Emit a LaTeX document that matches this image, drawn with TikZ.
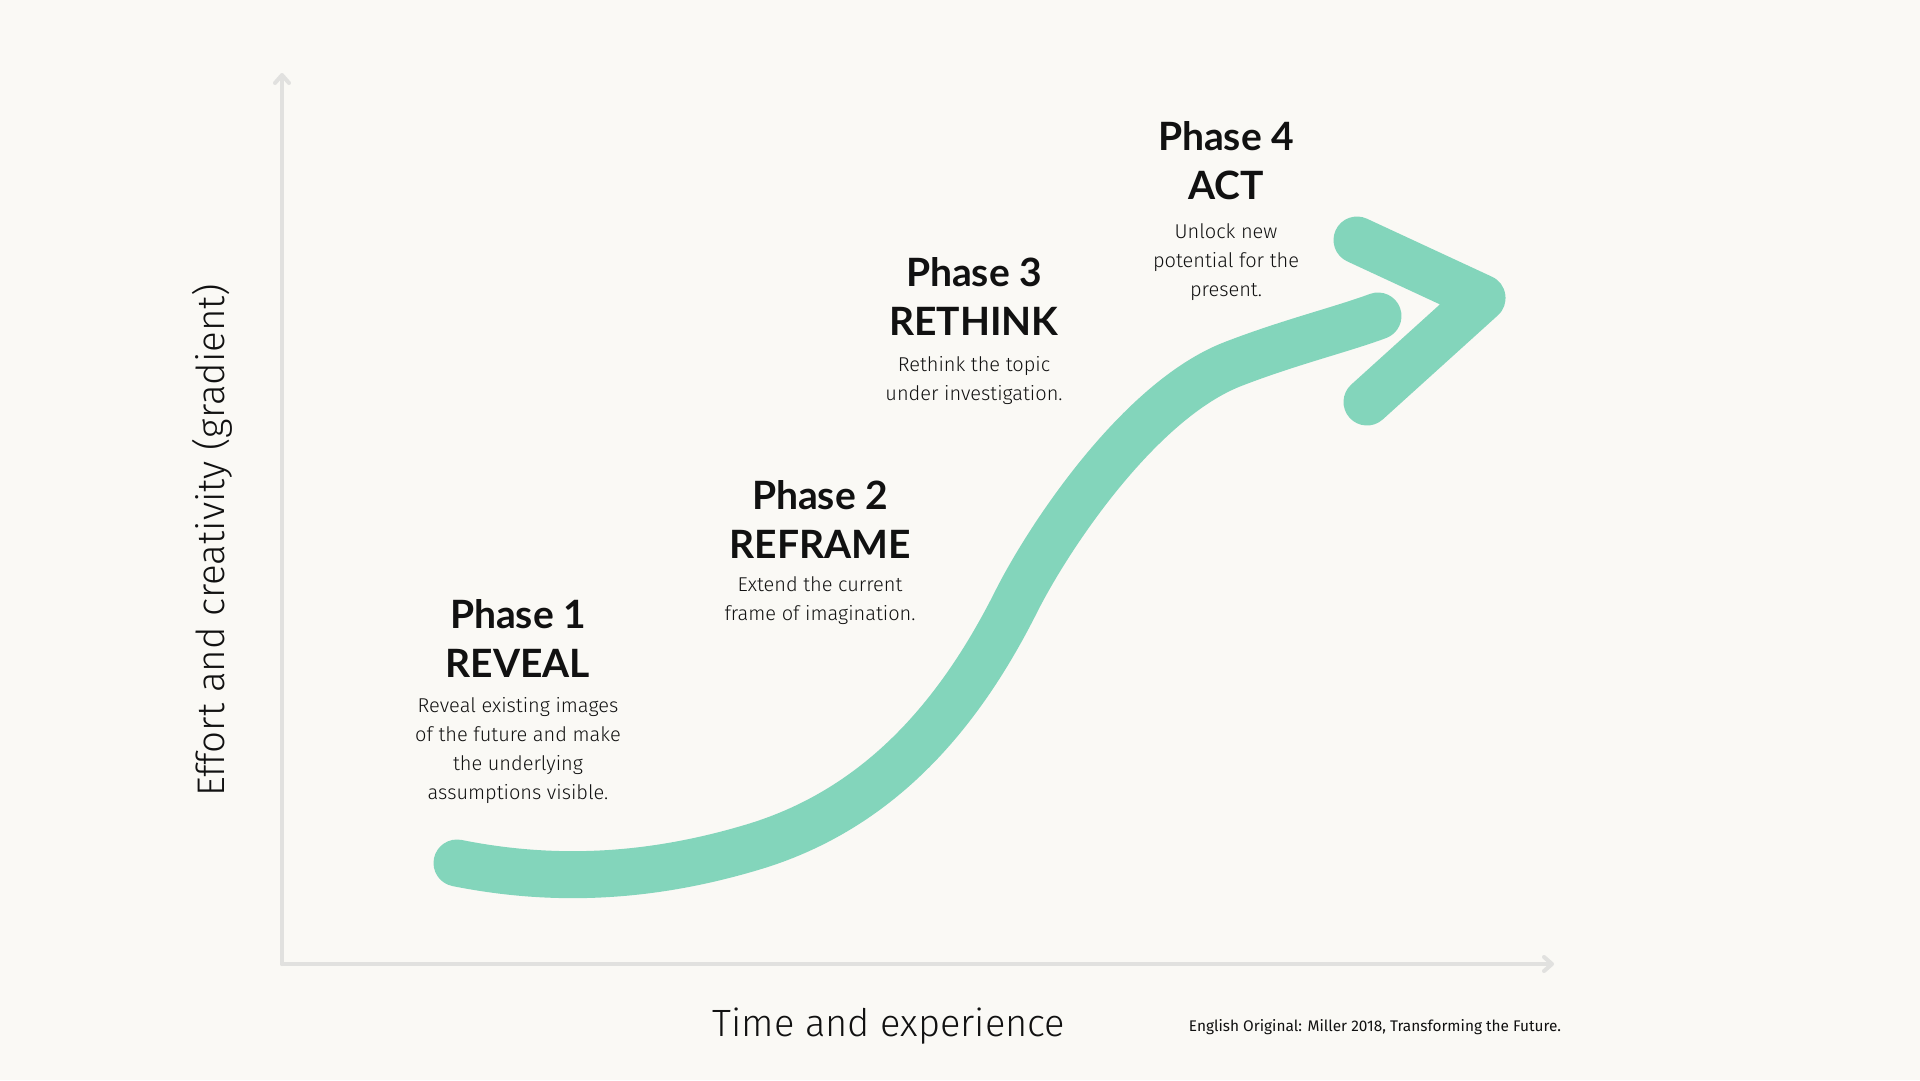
\documentclass[tikz,border=0pt]{standalone}
\usepackage{fontspec}
\setmainfont{Fira Sans}
\newfontfamily\titlefont{Lato}
\newfontfamily\lightfont{Fira Sans Light}
\usetikzlibrary{arrows.meta}
\definecolor{bg}{HTML}{FAF9F5}
\definecolor{curvecol}{HTML}{83D5BB}
\definecolor{axisgray}{HTML}{E1E1DF}
\definecolor{ink}{HTML}{111111}
\begin{document}
\begin{tikzpicture}[x=1pt,y=-1pt,
  title/.style={font=\titlefont\bfseries\fontsize{39}{49}\selectfont, align=center, text=ink, inner sep=0pt},
  body/.style={font=\lightfont\fontsize{20}{29}\selectfont, align=center, text=ink, inner sep=0pt},
  axislabel/.style={font=\lightfont\fontsize{38.5}{42}\selectfont, text=ink, inner sep=0pt},
  note/.style={font=\fontsize{15.4}{18}\selectfont, text=ink, inner sep=0pt},
  axisline/.style={draw=axisgray, line width=4pt, line cap=round, -{Straight Barb[length=8pt,width=14pt,line cap=round,line join=round]}},
  band/.style={draw=curvecol, line width=47pt, line cap=round, line join=round}]
\useasboundingbox (0,0) rectangle (1920,1080);
\fill[bg] (0,0) rectangle (1920,1080);

% axes
\coordinate (origin) at (282,964);
\coordinate (ytop) at (282,73);
\coordinate (xend) at (1554,964);
\draw[axisline] (origin) -- (ytop);
\draw[axisline] (origin) -- (xend);

% growth curve and arrow head
\coordinate (c0) at (457,863);
\coordinate (c1) at (753,847);
\coordinate (c2) at (1017,600);
\coordinate (c3) at (1233,364);
\coordinate (c4) at (1378,316);
\draw[band] (c0) .. controls (557,883) and (653,877) .. (c1)
                 .. controls (883,808) and (962,710) .. (c2)
                 .. controls (1050,535) and (1140,400) .. (c3)
                 .. controls (1290,342) and (1340,330) .. (c4);
\coordinate (hA) at (1357,240);
\coordinate (hB) at (1482,298);
\coordinate (hC) at (1367,402);
\draw[band] (hA) -- (hB) -- (hC);

% phase texts
\node[title] (p1t) at (518,638) {Phase 1\\REVEAL};
\node[body]  (p1b) at (518,751) {Reveal existing images\\of the future and make\\the underlying\\assumptions visible.};
\node[title] (p2t) at (820,520) {Phase 2\\REFRAME};
\node[body]  (p2b) at (820,601) {Extend the current\\frame of imagination.};
\node[title] (p3t) at (974,297) {Phase 3\\RETHINK};
\node[body]  (p3b) at (974,381) {Rethink the topic\\under investigation.};
\node[title] (p4t) at (1226,161) {Phase 4\\ACT};
\node[body]  (p4b) at (1226,262) {Unlock new\\potential for the\\present.};

% axis labels
\node[axislabel, rotate=90] (ylab) at (212,540) {Effort and creativity (gradient)};
\node[axislabel, font=\lightfont\fontsize{38}{42}\selectfont] (xlab) at (889,1026) {Time and experience};
\node[note] (src) at (1375,1027) {English Original: Miller 2018, Transforming the Future.};
\end{tikzpicture}
\end{document}
